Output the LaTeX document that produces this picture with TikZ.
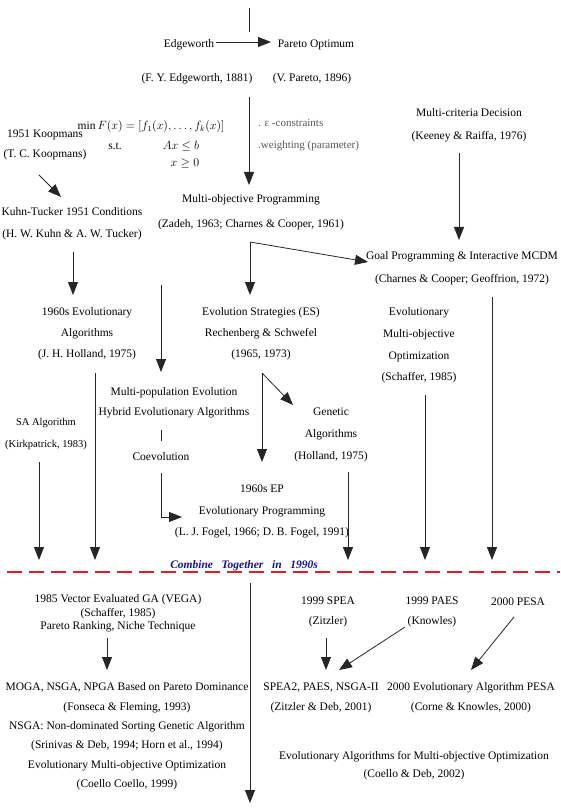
\documentclass[tikz,border=0pt]{standalone}
\usepackage{fontspec}
\setmainfont{Liberation Serif}
\usetikzlibrary{arrows.meta}
\definecolor{navyblue}{RGB}{20,20,140}
\definecolor{dashred}{RGB}{225,30,40}
\begin{document}
\begin{tikzpicture}[x=1pt,y=-1pt,
  txt/.style={font=\fontsize{11.5}{#1}\selectfont, align=center, inner sep=0pt, text=black},
  txt/.default=22,
  arr/.style={draw=black!85, line width=0.8pt, -{Triangle[length=13pt,width=10pt]}},
  ln/.style={draw=black!85, line width=0.8pt},
  note/.style={font=\fontsize{11}{13}\selectfont, text=black!65, anchor=west, inner sep=0pt},
  sep/.style={draw=dashred, line width=1.6pt, dash pattern=on 15pt off 7pt},
  era/.style={font=\fontsize{11.5}{13}\selectfont\bfseries\itshape, text=navyblue, inner sep=0pt}
]
\useasboundingbox (0,0) rectangle (560,810);

% ---------- connector end points ----------
\coordinate (t0) at (249,8);
\coordinate (t1) at (249,32);
\coordinate (b0) at (216,42);
\coordinate (b1) at (271,42);
\coordinate (c0) at (249,97);
\coordinate (c1) at (249,185);
\coordinate (k0) at (39,175);
\coordinate (k1) at (61,197);
\coordinate (r0) at (459,153);
\coordinate (r1) at (459,240);
\coordinate (l0) at (73,252);
\coordinate (l1) at (73,295);
\coordinate (s0) at (250,242);
\coordinate (s1) at (368,262);
\coordinate (s2) at (250,295);
\coordinate (h0) at (161,285);
\coordinate (h1) at (161,372);
\coordinate (i0) at (95,373);
\coordinate (i1) at (95,560);
\coordinate (j0) at (161,430);
\coordinate (j1) at (161,441);
\coordinate (q0) at (161,473);
\coordinate (q1) at (161,517);
\coordinate (q2) at (182,517);
\coordinate (a0) at (39,462);
\coordinate (a1) at (39,560);
\coordinate (m0) at (262,373);
\coordinate (m1) at (262,462);
\coordinate (m2) at (293,405);
\coordinate (n0) at (348,472);
\coordinate (n1) at (348,560);
\coordinate (o0) at (425,395);
\coordinate (o1) at (425,560);
\coordinate (p0) at (492,297);
\coordinate (p1) at (492,560);
\coordinate (d0) at (7,572);
\coordinate (d1) at (560,572);
\coordinate (v0) at (107,638);
\coordinate (v1) at (107,670);
\coordinate (w0) at (250,583);
\coordinate (w1) at (250,803);
\coordinate (x0) at (326,638);
\coordinate (x1) at (326,670);
\coordinate (y0) at (405,627);
\coordinate (y1) at (339,670);
\coordinate (z0) at (514,617);
\coordinate (z1) at (471,670);

% ---------- separator (drawn first, text lies on it) ----------
\draw[sep] (d0) -- (d1);

% ---------- top ----------
\node[txt] (edg) at (189,45) {Edgeworth};
\node[txt] (par) at (316,45) {Pareto Optimum};
\node[txt] (edgr) at (197,79) {(F. Y. Edgeworth, 1881)};
\node[txt] (parr) at (312,79) {(V. Pareto, 1896)};

\node[txt] (form) at (151,127) {$\min F(x)=[f_1(x),\dots,f_k(x)]$};
\node[txt] (st) at (115,146) {s.t.};
\node[txt] (axb) at (181,146) {$Ax\le b$};
\node[txt] (xge) at (185,163) {$x\ge 0$};

\node[note] (eps) at (258,123) {. ε -constraints};
\node[note] (wgt) at (258,146) {.weighting (parameter)};

\node[txt=20] (koop) at (45,145) {1951 Koopmans\\(T. C. Koopmans)};
\node[txt=23] (mcd) at (469,125.5) {Multi-criteria Decision\\(Keeney \& Raiffa, 1976)};

\node[txt=22] (kt) at (72,224) {Kuhn-Tucker 1951 Conditions\\(H. W. Kuhn \& A. W. Tucker)};
\node[txt=25] (mop) at (251,212.5) {Multi-objective Programming\\(Zadeh, 1963; Charnes \& Cooper, 1961)};
\node[txt=23] (gp) at (462,268.5) {Goal Programming \& Interactive MCDM\\(Charnes \& Cooper; Geoffrion, 1972)};

\node[txt=21] (ea) at (87,334) {1960s Evolutionary\\Algorithms\\(J. H. Holland, 1975)};
\node[txt=21] (es) at (261,334) {Evolution Strategies (ES)\\Rechenberg \& Schwefel\\(1965, 1973)};
\node[txt=21.7] (emo) at (419,345.5) {Evolutionary\\Multi-objective\\Optimization\\(Schaffer, 1985)};

\node[txt=22, font=\fontsize{10.5}{22}\selectfont] (sa) at (46,434) {SA Algorithm\\(Kirkpatrick, 1983)};
\node[txt=20] (mp) at (174,403) {Multi-population Evolution\\Hybrid Evolutionary Algorithms};
\node[txt] (co) at (161,457) {Coevolution};
\node[txt=22] (ga) at (331,435) {Genetic\\Algorithms\\(Holland, 1975)};
\node[txt=21.5] (ep) at (262,511.5) {1960s EP\\Evolutionary Programming\\(L. J. Fogel, 1966; D. B. Fogel, 1991)};

\node[era] (comb) at (244,566) {Combine\ \ \ Together\ \ \ in\ \ \ 1990s};

% ---------- bottom ----------
\node[txt=13.5] (vega) at (118,613.5) {1985 Vector Evaluated GA (VEGA)\\(Schaffer, 1985)\\Pareto Ranking, Niche Technique};
\node[txt=19.4] (moga) at (127,736.5) {MOGA, NSGA, NPGA Based on Pareto Dominance\\(Fonseca \& Fleming, 1993)\\NSGA: Non-dominated Sorting Genetic Algorithm\\(Srinivas \& Deb, 1994; Horn et al., 1994)\\Evolutionary Multi-objective Optimization\\(Coello Coello, 1999)};

\node[txt=20] (spea) at (328,612) {1999 SPEA\\(Zitzler)};
\node[txt=20] (paes) at (432,612) {1999 PAES\\(Knowles)};
\node[txt] (pesa) at (518,602) {2000 PESA};
\node[txt=20] (nsga) at (321,698) {SPEA2, PAES, NSGA-II\\(Zitzler \& Deb, 2001)};
\node[txt=20] (pesa2) at (471,698) {2000 Evolutionary Algorithm PESA\\(Corne \& Knowles, 2000)};
\node[txt=18] (book) at (414,766) {Evolutionary Algorithms for Multi-objective Optimization\\(Coello \& Deb, 2002)};

% ---------- connectors ----------
\draw[ln] (t0) -- (t1);
\draw[arr] (b0) -- (b1);
\draw[arr] (c0) -- (c1);
\draw[arr] (k0) -- (k1);
\draw[arr] (r0) -- (r1);
\draw[arr] (l0) -- (l1);
\draw[arr] (s0) -- (s1);
\draw[arr] (s0) -- (s2);
\draw[arr] (h0) -- (h1);
\draw[arr] (i0) -- (i1);
\draw[ln] (j0) -- (j1);
\draw[arr] (q0) -- (q1) -- (q2);
\draw[arr] (a0) -- (a1);
\draw[arr] (m0) -- (m1);
\draw[arr] (m0) -- (m2);
\draw[arr] (n0) -- (n1);
\draw[arr] (o0) -- (o1);
\draw[arr] (p0) -- (p1);
\draw[arr] (v0) -- (v1);
\draw[arr] (w0) -- (w1);
\draw[arr] (x0) -- (x1);
\draw[arr] (y0) -- (y1);
\draw[arr] (z0) -- (z1);
\end{tikzpicture}
\end{document}
